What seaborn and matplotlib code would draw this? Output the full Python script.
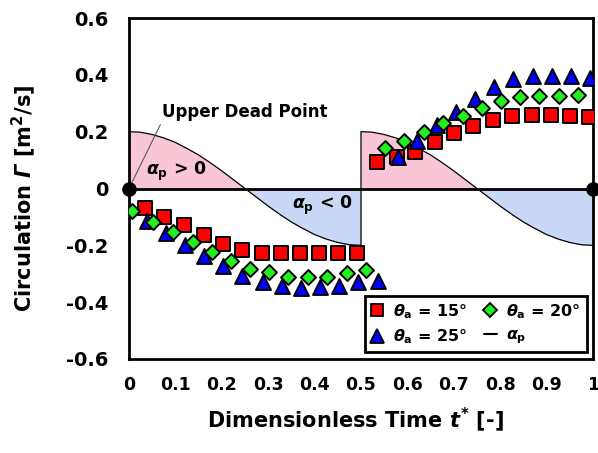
import matplotlib
matplotlib.use('Agg')
import matplotlib.pyplot as plt
from matplotlib.lines import Line2D
import seaborn as sns
import numpy as np

# pitch angle alpha_p over one half cycle (both halves look the same)
half_t = [0.0, 0.025, 0.05, 0.075, 0.1, 0.125, 0.15, 0.175, 0.2, 0.225, 0.25,
          0.275, 0.3, 0.325, 0.35, 0.375, 0.4, 0.425, 0.45, 0.475, 0.5]
half_alpha = [0.200, 0.198, 0.190, 0.178, 0.162, 0.141, 0.118, 0.091, 0.062, 0.031, 0.0,
              -0.031, -0.062, -0.091, -0.118, -0.141, -0.162, -0.178, -0.190, -0.198, -0.200]

# theta_a = 15 deg (red squares)
t_15 = [0.034, 0.075, 0.119, 0.162, 0.203, 0.244, 0.287, 0.328, 0.369, 0.409, 0.450, 0.491,
        0.534, 0.578, 0.616, 0.659, 0.700, 0.741, 0.784, 0.825, 0.869, 0.909, 0.950, 0.991]
g_15 = [-0.07, -0.10, -0.13, -0.165, -0.195, -0.215, -0.228, -0.228, -0.228, -0.228, -0.228, -0.228,
        0.093, 0.11, 0.13, 0.163, 0.195, 0.22, 0.24, 0.254, 0.258, 0.258, 0.255, 0.252]

# theta_a = 20 deg (green diamonds)
t_20 = [0.006, 0.052, 0.095, 0.138, 0.179, 0.220, 0.261, 0.302, 0.343, 0.386, 0.427, 0.470,
        0.511, 0.552, 0.593, 0.636, 0.677, 0.720, 0.761, 0.802, 0.843, 0.884, 0.927, 0.968]
g_20 = [-0.08, -0.118, -0.153, -0.188, -0.223, -0.254, -0.282, -0.293, -0.311, -0.311, -0.311, -0.296,
        -0.286, 0.142, 0.167, 0.198, 0.23, 0.254, 0.282, 0.307, 0.321, 0.325, 0.325, 0.328]

# theta_a = 25 deg (blue triangles)
t_25 = [0.039, 0.080, 0.121, 0.162, 0.203, 0.244, 0.289, 0.330, 0.371, 0.412, 0.453, 0.494,
        0.537, 0.580, 0.621, 0.664, 0.705, 0.746, 0.787, 0.828, 0.871, 0.912, 0.953, 0.994]
g_25 = [-0.114, -0.156, -0.198, -0.237, -0.272, -0.307, -0.328, -0.342, -0.349, -0.346, -0.342, -0.328,
        -0.325, 0.11, 0.167, 0.223, 0.268, 0.316, 0.356, 0.384, 0.395, 0.395, 0.395, 0.388]

dead_t = [0.0, 1.0]
dead_g = [0.0, 0.0]

xticks = [0, 0.1, 0.2, 0.3, 0.4, 0.5, 0.6, 0.7, 0.8, 0.9, 1]
xlabels = ['0', '0.1', '0.2', '0.3', '0.4', '0.5', '0.6', '0.7', '0.8', '0.9', '1']
yticks = [-0.6, -0.4, -0.2, 0, 0.2, 0.4, 0.6]
ylabels = ['-0.6', '-0.4', '-0.2', '0', '0.2', '0.4', '0.6']

sns.set_theme(style='white')
plt.rcParams['font.family'] = ['DejaVu Sans']
plt.rcParams['font.weight'] = 'bold'
plt.rcParams['mathtext.fontset'] = 'custom'
plt.rcParams['mathtext.rm'] = 'DejaVu Sans:bold'
plt.rcParams['mathtext.it'] = 'DejaVu Sans:italic:bold'
plt.rcParams['mathtext.bf'] = 'DejaVu Sans:bold'
plt.rcParams['mathtext.sf'] = 'DejaVu Sans:italic:bold'  # used for the italic capital Gamma
plt.rcParams['axes.unicode_minus'] = False
for key in ['text.color', 'axes.labelcolor', 'xtick.color', 'ytick.color']:
    plt.rcParams[key] = 'black'

fig = plt.figure(figsize=(5.98, 4.53), dpi=100)
ax = fig.add_axes([129 / 598, 94 / 453, 464 / 598, 341 / 453])

pink = '#F8C6D4'
lblue = '#C8D8F6'
for k in range(2):
    tt = np.array(half_t) + 0.5 * k
    aa = np.array(half_alpha)
    ax.fill_between(tt, aa, 0, where=aa >= 0, color=pink, lw=0, interpolate=True, zorder=1)
    ax.fill_between(tt, aa, 0, where=aa <= 0, color=lblue, lw=0, interpolate=True, zorder=1)

alpha_t = half_t + [t + 0.5 for t in half_t]
alpha_p = half_alpha + half_alpha
sns.lineplot(x=alpha_t, y=alpha_p, sort=False, estimator=None, color='black', lw=0.9, ax=ax, zorder=2)

sns.scatterplot(x=t_15, y=g_15, marker='s', s=95, color='#FF0000', edgecolor='black', linewidth=1.4, ax=ax, zorder=5)
sns.scatterplot(x=t_25, y=g_25, marker='^', s=115, color='#0000FF', edgecolor='black', linewidth=1.4, ax=ax, zorder=6)
sns.scatterplot(x=t_20, y=g_20, marker='D', s=58, color='#22EE22', edgecolor='black', linewidth=1.4, ax=ax, zorder=7)

ax.scatter(dead_t, dead_g, s=90, color='black', zorder=8, clip_on=False)

ax.set_xlim(0, 1)
ax.set_ylim(-0.6, 0.6)

# x axis drawn through zero, labels on the bottom frame
ax.spines['bottom'].set_position(('data', 0))
for sp in ax.spines.values():
    sp.set_linewidth(2)
    sp.set_color('black')
    sp.set_zorder(4)
ax.set_xticks(xticks)
ax.tick_params(axis='x', direction='in', length=5, width=2, color='black', labelbottom=False)
ax.set_yticks(yticks, labels=ylabels)
ax.tick_params(axis='y', direction='in', length=5, width=2, color='black', pad=15, labelsize=14)

sec = ax.secondary_xaxis('bottom')
sec.set_xticks(xticks, labels=xlabels)
sec.tick_params(length=0, pad=12, labelsize=12.5)
sec.spines['bottom'].set_linewidth(2)
sec.spines['bottom'].set_color('black')

ax.set_ylabel(r'Circulation $\mathsf{Γ}$ [m$^{2}$/s]', fontsize=15, fontweight='bold')
ax.yaxis.set_label_coords(-0.196, 0.472)
ax.set_xlabel(r'Dimensionless Time $t^{*}$ [-]', fontsize=15, fontweight='bold')
ax.xaxis.set_label_coords(0.487, -0.135)

ax.annotate('Upper Dead Point', xy=(0, 0), xytext=(0.071, 0.25), fontsize=12, fontweight='bold',
            ha='left', va='baseline',
            arrowprops=dict(arrowstyle='-', color='0.35', lw=0.8, shrinkA=0, shrinkB=0, relpos=(0.0, 0.0)))
ax.text(0.037, 0.06, r'$\alpha_{\mathrm{p}}$ > 0', fontsize=12.5, fontweight='bold', ha='left', va='center')
ax.text(0.483, -0.06, r'$\alpha_{\mathrm{p}}$ < 0', fontsize=12.5, fontweight='bold', ha='right', va='center')

handles = [
    Line2D([], [], ls='none', marker='s', ms=9, mfc='#FF0000', mec='black', mew=1.3),
    Line2D([], [], ls='none', marker='^', ms=10, mfc='#0000FF', mec='black', mew=1.3),
    Line2D([], [], ls='none', marker='D', ms=7, mfc='#22EE22', mec='black', mew=1.3),
    Line2D([], [], color='black', lw=1.5),
]
labels = [r'$\theta_{\mathrm{a}}$ = 15°', r'$\theta_{\mathrm{a}}$ = 25°',
          r'$\theta_{\mathrm{a}}$ = 20°', r'$\alpha_{\mathrm{p}}$']
leg = ax.legend(handles, labels, ncol=2, loc='lower right', bbox_to_anchor=(0.987, 0.02),
                borderaxespad=0, fontsize=11.5, handlelength=0.8, handletextpad=0.6,
                columnspacing=1.0, labelspacing=0.4, borderpad=0.4, fancybox=False, framealpha=1)
leg.get_frame().set_edgecolor('black')
leg.get_frame().set_linewidth(2)
leg.set_zorder(10)

fig.savefig('out.png', dpi=100)
